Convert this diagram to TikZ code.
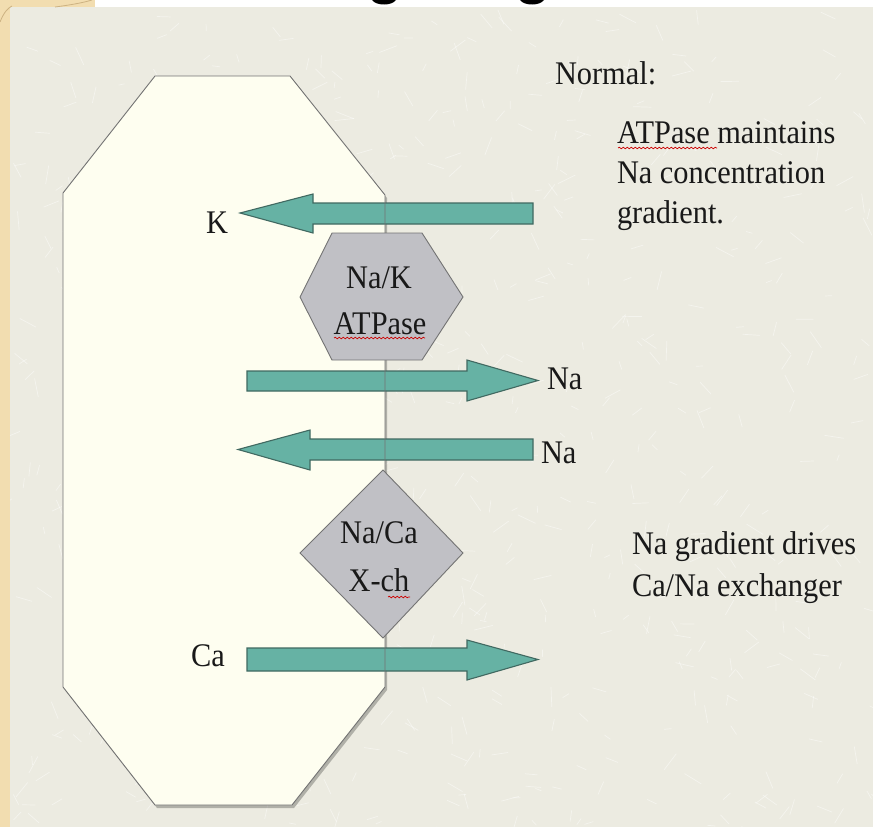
\documentclass[tikz,border=0pt]{standalone}
\usepackage{fontspec}
\setmainfont{Liberation Serif}
\usetikzlibrary{decorations.pathmorphing}
\begin{document}
\begin{tikzpicture}[x=1pt,y=-1pt,
  every node/.style={inner sep=0pt, outer sep=0pt, text=black!90},
  txt/.style={font=\fontsize{33}{40}\selectfont, xscale=0.92},
  barrow/.style={fill=arrowfill, draw=arrowedge, line width=1.1pt, line join=miter},
  protein/.style={fill=protgray, draw=black!55, line width=0.9pt},
  squiggle/.style={draw=red!80!black, line width=0.7pt,
    decorate, decoration={snake, amplitude=0.8pt, segment length=4pt}}]
\definecolor{pagebg}{RGB}{236,235,225}
\definecolor{cellfill}{RGB}{254,254,240}
\definecolor{arrowfill}{RGB}{102,178,164}
\definecolor{arrowedge}{RGB}{65,105,97}
\definecolor{protgray}{RGB}{192,192,197}
\definecolor{tan}{RGB}{242,221,176}
\definecolor{tandark}{RGB}{205,178,130}

% page, side strip and top strip
\useasboundingbox (0,0) rectangle (873,827);
\fill[pagebg] (0,0) rectangle (873,827);
% faint fibre texture of the page
\pgfmathsetseed{7}
\foreach \i in {1,...,700}{
  \pgfmathsetmacro{\px}{10+rnd*863}
  \pgfmathsetmacro{\py}{7+rnd*820}
  \pgfmathsetmacro{\pa}{rnd*180}
  \pgfmathsetmacro{\pl}{6+rnd*14}
  \draw[white, opacity=0.45, line width=0.7pt] (\px,\py) -- ++(\pa:\pl);
}
\fill[white] (0,0) rectangle (873,7);
\fill[tan] (0,0) rectangle (10,827);
\fill[tan] (0,0) rectangle (95,7);
\draw[tandark, line width=0.8pt] (0,22) .. controls (4,12) and (8,8) .. (12,6);
\draw[tandark, line width=0.8pt] (55,7) .. controls (70,5) and (82,3) .. (92,0);
% cut-off title letters
\fill[black] (372,0) .. controls (376,6) and (392,6) .. (396,0) -- cycle;
\fill[black] (520,0) .. controls (524,6) and (540,6) .. (544,0) -- cycle;

% the cell
\coordinate (c1) at (155,76);  \coordinate (c2) at (290,76);
\coordinate (c3) at (385,195); \coordinate (c4) at (385,687);
\coordinate (c5) at (292,805); \coordinate (c6) at (155,805);
\coordinate (c7) at (63,687);  \coordinate (c8) at (63,193);
\fill[black, opacity=0.25] ([shift={(2,3)}]c1) -- ([shift={(2,3)}]c2) -- ([shift={(2,3)}]c3)
  -- ([shift={(2,3)}]c4) -- ([shift={(2,3)}]c5) -- ([shift={(2,3)}]c6)
  -- ([shift={(2,3)}]c7) -- ([shift={(2,3)}]c8) -- cycle;
\fill[cellfill] (c1) -- (c2) -- (c3) -- (c4) -- (c5) -- (c6) -- (c7) -- (c8) -- cycle;

% transport arrows
\path[barrow] (533,203) -- (313,203) -- (313,194) -- (240,213) -- (313,233) -- (313,224) -- (533,224) -- cycle;
\path[barrow] (247,371) -- (467,371) -- (467,360) -- (538,380.5) -- (467,401) -- (467,391) -- (247,391) -- cycle;
\path[barrow] (533,439) -- (310,439) -- (310,430) -- (238,449.5) -- (310,470) -- (310,460) -- (533,460) -- cycle;
\path[barrow] (247,648) -- (467,648) -- (467,640) -- (538,659.5) -- (467,680) -- (467,671) -- (247,671) -- cycle;

% membrane outline
\draw[black!55, line width=0.9pt] (c1) -- (c2) -- (c3) -- (c4) -- (c5) -- (c6) -- (c7) -- (c8) -- cycle;

% pump and exchanger
\path[protein] (332,233) -- (422,233) -- (463,297) -- (422,360) -- (332,360) -- (300,297) -- cycle;
\path[protein] (383,470) -- (463,553) -- (383,638) -- (300,553) -- cycle;

\node[txt, anchor=base] (pumpA) at (379,288) {Na/K};
\node[txt, anchor=base] (pumpB) at (380,334) {ATPase};
\draw[squiggle] (334,338) -- (425,338);
\node[txt, anchor=base] (xchA) at (379,543) {Na/Ca};
\node[txt, anchor=base] (xchB) at (379,591) {X-ch};
\draw[squiggle] (388,597) -- (410,597);

% ion labels
\node[txt, anchor=base] (lK) at (217,233) {K};
\node[txt, anchor=base west] (lNa1) at (547,389) {Na};
\node[txt, anchor=base west] (lNa2) at (541,463) {Na};
\node[txt, anchor=base] (lCa) at (208,666) {Ca};

% notes
\node[txt, anchor=base west] (n0) at (555,84) {Normal:};
\node[txt, anchor=base west] (n1) at (617,143) {ATPase maintains};
\draw[squiggle] (618,148) -- (717,148);
\node[txt, anchor=base west] (n2) at (617,183) {Na concentration};
\node[txt, anchor=base west] (n3) at (617,223) {gradient.};
\node[txt, anchor=base west] (n4) at (632,554) {Na gradient drives};
\node[txt, anchor=base west] (n5) at (632,596) {Ca/Na exchanger};
\end{tikzpicture}
\end{document}
